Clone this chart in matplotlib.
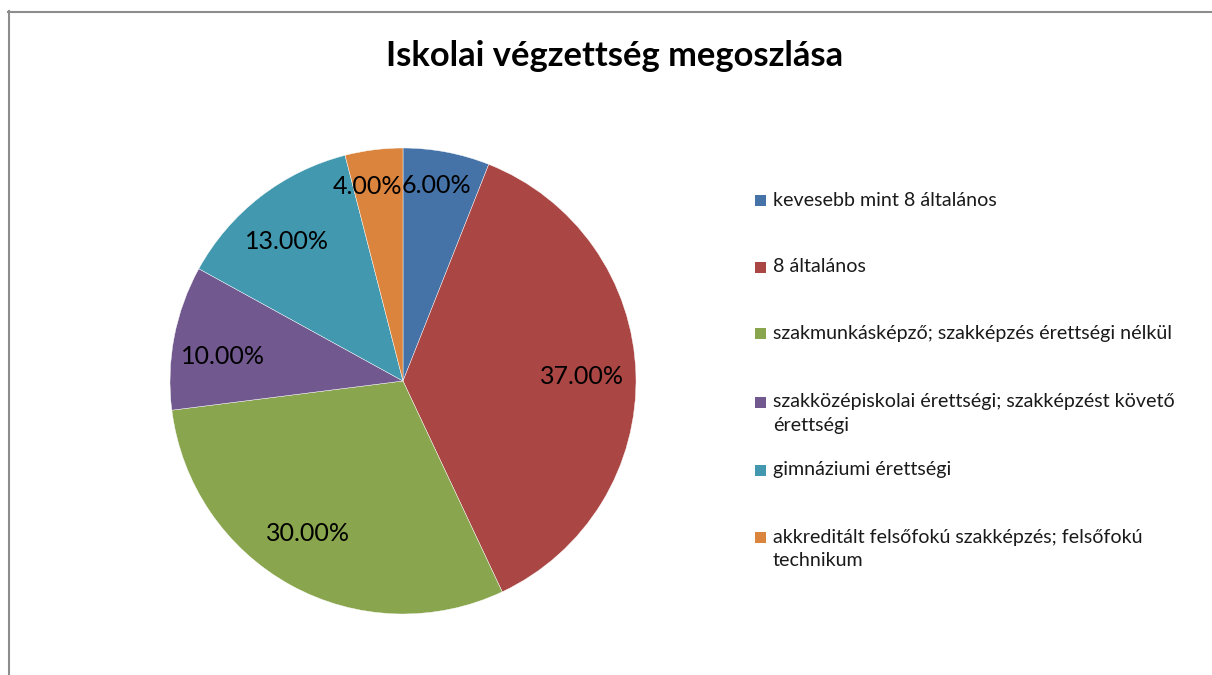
import numpy as np
import matplotlib
matplotlib.use("Agg")
import matplotlib.pyplot as plt
from matplotlib.lines import Line2D
from matplotlib.patches import Rectangle

# ---- data ----
title = "Iskolai végzettség megoszlása"
categories = [
    "kevesebb mint 8 általános",
    "8 általános",
    "szakmunkásképző; szakképzés érettségi nélkül",
    "szakközépiskolai érettségi; szakképzést követő\nérettségi",
    "gimnáziumi érettségi",
    "akkreditált felsőfokú szakképzés; felsőfokú\ntechnikum",
]
values = [6.0, 37.0, 30.0, 10.0, 13.0, 4.0]

# ---- style ----
colors = ["#4572A7", "#AA4643", "#89A54E", "#71588F", "#4198AF", "#DB843D"]
label_r = [0.85, 0.77, 0.77, 0.78, 0.78, 0.85]
label_dang = [1.0, -0.5, -3.0, 3.0, 2.0, 3.0]
FONT = "Lato"

W, H = 1212, 675
fig = plt.figure(figsize=(W / 100, H / 100), dpi=100)
fig.patch.set_facecolor("white")

cx, cy, R = 403, 381, 233
ax = fig.add_axes([(cx - R) / W, (H - cy - R) / H, 2 * R / W, 2 * R / H])
wedges, _ = ax.pie(values, colors=colors, startangle=90, counterclock=False,
                   radius=1.0,
                   wedgeprops=dict(edgecolor="white", linewidth=0.3))
ax.set_xlim(-1, 1)
ax.set_ylim(-1, 1)
ax.set_aspect("equal")
ax.axis("off")

total = sum(values)
for w, v, rf, da in zip(wedges, values, label_r, label_dang):
    mid = np.deg2rad((w.theta1 + w.theta2) / 2 + da)
    ax.text(rf * np.cos(mid), rf * np.sin(mid), f"{v / total * 100:.2f}%",
            ha="center", va="center", fontsize=18, family=FONT, color="black")

# title
fig.text(615 / W, 1 - 56 / H, title, ha="center", va="center",
         fontsize=24.8, fontweight="bold", family=FONT, color="black")

# legend (manual)
ys = [200, 267, 333, 402, 470, 537]
line_gap = 24
for lab, col, y in zip(categories, colors, ys):
    fig.patches.append(Rectangle(((755) / W, 1 - (y + 5.5) / H), 11 / W, 11 / H,
                                 transform=fig.transFigure, facecolor=col,
                                 edgecolor="none"))
    for k, line in enumerate(lab.split("\n")):
        fig.text(773 / W, 1 - (y + k * line_gap) / H, line, ha="left",
                 va="center", fontsize=14.1, family=FONT, color="#1a1a1a")

# border (top and left only)
fig.add_artist(Line2D([8 / W, 1.0], [1 - 11.5 / H, 1 - 11.5 / H],
                      transform=fig.transFigure, color="#8c8c8c", linewidth=1.5))
fig.add_artist(Line2D([8.5 / W, 8.5 / W], [0, 1 - 11 / H],
                      transform=fig.transFigure, color="#8c8c8c", linewidth=1.5))

fig.savefig("out.png", dpi=100, facecolor="white")
